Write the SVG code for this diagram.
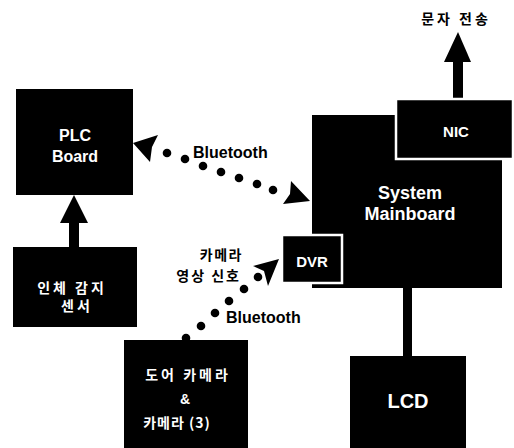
<svg xmlns="http://www.w3.org/2000/svg" width="514" height="448" viewBox="0 0 514 448">
<style>
.box{fill:#000;}
.wb{fill:#000;stroke:#fff;stroke-width:2.5;}
.lbl{font-family:"Liberation Sans","Noto Sans CJK KR",sans-serif;font-weight:bold;fill:#fff;text-anchor:middle;}
.ko{font-family:"Noto Sans CJK KR","Liberation Sans",sans-serif;font-weight:bold;}
.kw{font-family:"Noto Sans CJK KR","Liberation Sans",sans-serif;font-weight:bold;fill:#fff;text-anchor:middle;font-size:14px;}
.bt{font-family:"Liberation Sans",sans-serif;font-weight:bold;font-size:16px;fill:#000;}
.dot{fill:#000;}
</style>
<rect width="514" height="448" fill="#fff"/>

<g id="connectors">
  <!-- sensor to PLC -->
  <rect x="69" y="220" width="10" height="28" fill="#000"/>
  <path d="M74,195 L88,223 L60,223 Z" fill="#000"/>
  <!-- NIC up -->
  <rect x="453" y="58" width="10" height="42" fill="#000"/>
  <path d="M458,32 L471,62 L444,62 Z" fill="#000"/>
  <!-- Mainboard to LCD -->
  <rect x="403" y="286" width="9" height="72" fill="#000"/>
  <!-- Bluetooth upper -->
  <path d="M133,143 L158,135 L152,147 L150,162 Z" fill="#000"/>
  <g class="dot">
    <circle cx="167" cy="153" r="4.3"/>
    <circle cx="185" cy="159" r="4.3"/>
    <circle cx="203" cy="166" r="4.3"/>
    <circle cx="221" cy="172" r="4.3"/>
    <circle cx="239" cy="178" r="4.3"/>
    <circle cx="257" cy="184" r="4.3"/>
    <circle cx="273" cy="190" r="4.3"/>
  </g>
  <path d="M310,201 L291,181 L290,194 L283,204 Z" fill="#000"/>
  <text class="bt" x="193" y="158">Bluetooth</text>
  <!-- Bluetooth lower -->
  <g class="dot">
    <circle cx="186" cy="338" r="4.3"/>
    <circle cx="201" cy="326" r="4.3"/>
    <circle cx="215" cy="313" r="4.3"/>
    <circle cx="229" cy="301" r="4.3"/>
    <circle cx="244" cy="289" r="4.3"/>
    <circle cx="258" cy="277" r="4.3"/>
  </g>
  <path d="M279,259 L253,266 L264,271 L268,286 Z" fill="#000"/>
  <text class="bt" x="226" y="323">Bluetooth</text>
  <text class="ko" x="243" y="260" font-size="14" letter-spacing="1.5" text-anchor="end">카메라</text>
  <text class="ko" x="241" y="281" font-size="14" letter-spacing="2" text-anchor="end">영상 신호</text>
  <text class="ko" x="456" y="24" font-size="14" letter-spacing="3" text-anchor="middle">문자 전송</text>
</g>

<g id="plc">
  <rect class="box" x="16" y="89" width="117" height="106"/>
  <text class="lbl" x="75" y="141" font-size="16">PLC</text>
  <text class="lbl" x="75" y="162" font-size="16">Board</text>
</g>

<g id="sensor">
  <rect class="box" x="13" y="247" width="124" height="80"/>
  <text class="kw" x="72" y="293" letter-spacing="3">인체 감지</text>
  <text class="kw" x="77" y="311" letter-spacing="3">센서</text>
</g>

<g id="mainboard">
  <rect class="box" x="312" y="115" width="190" height="173"/>
  <text class="lbl" x="410" y="199" font-size="18">System</text>
  <text class="lbl" x="410" y="220" font-size="18">Mainboard</text>
</g>

<g id="nic">
  <rect class="wb" x="396" y="99" width="117" height="60"/>
  <text class="lbl" x="456" y="137" font-size="15">NIC</text>
</g>

<g id="dvr">
  <rect class="wb" x="282" y="235" width="60" height="48"/>
  <text class="lbl" x="312" y="267" font-size="15">DVR</text>
</g>

<g id="camera">
  <rect class="box" x="124" y="340" width="124" height="108"/>
  <text class="kw" x="188" y="380" letter-spacing="3">도어 카메라</text>
  <text class="lbl" x="185" y="404" font-size="14">&amp;</text>
  <text class="kw" x="177" y="428" letter-spacing="1">카메라 (3)</text>
</g>

<g id="lcd">
  <rect class="box" x="350" y="356" width="116" height="92"/>
  <text class="lbl" x="408" y="408" font-size="20">LCD</text>
</g>
</svg>
